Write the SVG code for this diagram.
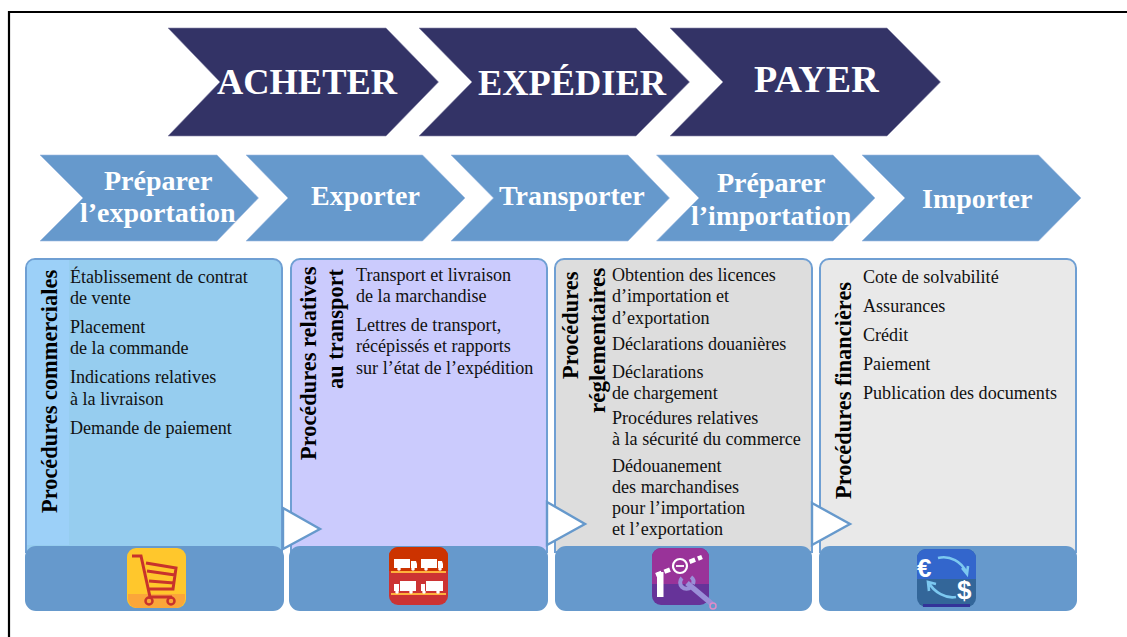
<svg xmlns="http://www.w3.org/2000/svg" width="1127" height="637" viewBox="0 0 1127 637">
<style>
.dark{fill:#333366;stroke:#8a88aa;stroke-width:.6}
.light{fill:#6699CC;stroke:#9fbbe0;stroke-width:.6}
text{font-family:"Liberation Serif","Times New Roman",serif}
.t1{font-size:36.400px;font-weight:700;fill:#fff}
.t2{font-size:28px;font-weight:700;fill:#fff}
.t3{font-size:18.100px;fill:#111}
.v{font-size:22.400px;font-weight:700;fill:#000}
.card{stroke:#6f9fd3;stroke-width:2}
.foot{fill:#6699CC}
.arrow{fill:#fff;stroke:#6699CC;stroke-width:2.400;stroke-linejoin:miter}
.w{fill:#fff}
.frame{fill:none;stroke:#000;stroke-width:2.200}
</style>
<rect width="1127" height="637" fill="#fff"/>
<path class="frame" d="M1127 12H9V637"/>

<g id="node-acheter"><polygon class="dark" points="168,28 386,28 438.500,82 386,136 168,136 220,82"/><text class="t1" x="217" y="94">ACHETER</text></g>
<g id="node-expedier"><polygon class="dark" points="419,28 636,28 689.500,82 636,136 419,136 472,82"/><text class="t1" x="478" y="95">EXPÉDIER</text></g>
<g id="node-payer"><polygon class="dark" points="670,28 887,28 940.500,82 887,136 670,136 723,82"/><text class="t1" style="font-size:38px" x="754" y="92">PAYER</text></g>

<g id="node-preparer-exportation"><polygon class="light" points="40,155 217,155 258.500,198 217,241 40,241 83,198"/><text class="t2" x="104" y="190">Préparer</text><text class="t2" x="80" y="222">l’exportation</text></g>
<g id="node-exporter"><polygon class="light" points="246,155 422.500,155 465,198 422.500,241 246,241 288,198"/><text class="t2" x="311" y="205">Exporter</text></g>
<g id="node-transporter"><polygon class="light" points="451,155 628,155 669.500,198 628,241 451,241 493.500,198"/><text class="t2" x="499" y="205">Transporter</text></g>
<g id="node-preparer-importation"><polygon class="light" points="656.500,155 833,155 875,198 833,241 656.500,241 699,198"/><text class="t2" x="717" y="192">Préparer</text><text class="t2" x="691" y="225">l’importation</text></g>
<g id="node-importer"><polygon class="light" points="862,155 1038.500,155 1081,198 1038.500,241 862,241 905,198"/><text class="t2" x="922" y="208">Importer</text></g>

<g id="node-commerciales">
<path class="card" fill="#96CDEF" d="M26 552V268a9 9 0 0 1 9-9H273a9 9 0 0 1 9 9V552Z"/>
<path fill="#9CD0F8" d="M27 545V268a8 8 0 0 1 8-8H69V545Z"/>
<rect class="foot" x="25" y="546" width="259" height="65" rx="11"/>
<text class="v" transform="translate(57,513) rotate(-90)">Procédures commerciales</text>
<g class="t3"><text x="70" y="283">Établissement de contrat</text><text x="70" y="304">de vente</text><text x="70" y="333">Placement</text><text x="70" y="354">de la commande</text><text x="70" y="383">Indications relatives</text><text x="70" y="405">à la livraison</text><text x="70" y="434">Demande de paiement</text></g>
<g id="icon-cart">
<rect x="127" y="548" width="59" height="60" rx="9" fill="#FFC72C"/>
<path d="M128 594H185V599a9 9 0 0 1-9 9H137a9 9 0 0 1-9-9Z" fill="#FBA63A"/>
<path d="M132 556H141L150 597H172M146 563 176 568 173 589H149M147 571 175 575M149 581 174 583" fill="none" stroke="#C8322C" stroke-width="3"/>
<circle cx="149" cy="601" r="3.500" fill="none" stroke="#C8322C" stroke-width="2.500"/><circle cx="171" cy="601" r="3.500" fill="none" stroke="#C8322C" stroke-width="2.500"/>
</g>
</g>

<g id="node-transport">
<path class="card" fill="#CBCBFD" d="M291 552V268a9 9 0 0 1 9-9H538a9 9 0 0 1 9 9V552Z"/>
<rect class="foot" x="289" y="546" width="259" height="65" rx="11"/>
<text class="v" transform="translate(316,460) rotate(-90)">Procédures relatives</text>
<text class="v" transform="translate(343,389) rotate(-90)">au transport</text>
<g class="t3"><text x="356" y="281">Transport et livraison</text><text x="356" y="302">de la marchandise</text><text x="356" y="331">Lettres de transport,</text><text x="356" y="352">récépissés et rapports</text><text x="356" y="374">sur l’état de l’expédition</text></g>
<g id="icon-trucks">
<rect x="389" y="547" width="59" height="58" rx="9" fill="#CC3333"/>
<path d="M398 547H439a9 9 0 0 1 9 9V571H389V556a9 9 0 0 1 9-9Z" fill="#CC3300"/>
<path fill="#FFB13B" d="M391 571H446V573H391ZM391 593H446V595H391Z"/>
<g class="w">
<path d="M394 559H410V568H394ZM411 561H416L417 564V568H411ZM421 559H437V568H421ZM438 561H442L443 564V568H438Z"/>
<path d="M400 581H416V591H400ZM394 584H399V591H394ZM426 581H443V591H426ZM421 584H425V591H421Z"/>
<circle cx="399" cy="569" r="1.800"/><circle cx="413" cy="569" r="1.800"/><circle cx="426" cy="569" r="1.800"/><circle cx="440" cy="569" r="1.800"/>
<circle cx="397" cy="592" r="1.800"/><circle cx="411" cy="592" r="1.800"/><circle cx="424" cy="592" r="1.800"/><circle cx="438" cy="592" r="1.800"/>
</g>
</g>
</g>

<g id="node-reglementaires">
<path class="card" fill="#DDDDDD" d="M555 552V268a9 9 0 0 1 9-9H803a9 9 0 0 1 9 9V552Z"/>
<rect class="foot" x="555" y="546" width="257" height="65" rx="11"/>
<text class="v" transform="translate(578,379) rotate(-90)">Procédures</text>
<text class="v" style="font-size:23px" transform="translate(605,413) rotate(-90)">réglementaires</text>
<g class="t3"><text x="612" y="281">Obtention des licences</text><text x="612" y="302">d’importation et</text><text x="612" y="324">d’exportation</text><text x="612" y="350">Déclarations douanières</text><text x="612" y="378">Déclarations</text><text x="612" y="399">de chargement</text><text x="612" y="424">Procédures relatives</text><text x="612" y="445">à la sécurité du commerce</text><text x="612" y="472">Dédouanement</text><text x="612" y="493">des marchandises</text><text x="612" y="514">pour l’importation</text><text x="612" y="535">et l’exportation</text></g>
<g id="icon-tools">
<rect x="652" y="548" width="57" height="57" rx="9" fill="#663399"/>
<path d="M661 548H700a9 9 0 0 1 9 9V584H652V557a9 9 0 0 1 9-9Z" fill="#993399"/>
<path d="M656 575 702 557" stroke="#fff" stroke-width="4.500" stroke-dasharray="6 3" fill="none"/>
<circle cx="680" cy="566" r="7" fill="#993399" stroke="#fff" stroke-width="2.200"/><path d="M676 566H684" stroke="#fff" stroke-width="1.800"/>
<rect x="657" y="572" width="6.500" height="25" fill="#fff"/>
<path d="M687 583 712 604" stroke="#9A8FD8" stroke-width="5.500"/><path d="M682 578a6 6 0 0 0 9 9M691 577a6 6 0 0 1 2 7" fill="none" stroke="#9A8FD8" stroke-width="4"/><circle cx="713" cy="606" r="3" fill="none" stroke="#E08CC8" stroke-width="1.500"/>
</g>
</g>

<g id="node-financieres">
<path class="card" fill="#E9E9E9" d="M820 552V268a9 9 0 0 1 9-9H1067a9 9 0 0 1 9 9V552Z"/>
<rect class="foot" x="819" y="546" width="258" height="65" rx="11"/>
<text class="v" transform="translate(851,499) rotate(-90)">Procédures financières</text>
<g class="t3"><text x="863" y="283">Cote de solvabilité</text><text x="863" y="312">Assurances</text><text x="863" y="341">Crédit</text><text x="863" y="370">Paiement</text><text x="863" y="399">Publication des documents</text></g>
<g id="icon-money">
<rect x="917" y="549" width="59" height="58" rx="9" fill="#336699"/>
<path d="M926 549H967a9 9 0 0 1 9 9V579H917V558a9 9 0 0 1 9-9Z" fill="#3366CC"/>
<path d="M923 604H970V607H923Z" fill="#333399"/>
<path d="M938 558C950 555 962 562 966 572M962 568 967 574 968 566M956 597C946 599 934 592 929 583M929 591 928 582 936 584" fill="none" stroke="#7CC8F0" stroke-width="2.600"/>
<text x="917" y="577" style="font-family:'Liberation Sans',sans-serif;font-weight:700;font-size:26px;fill:#fff">€</text>
<text x="957" y="599" style="font-family:'Liberation Sans',sans-serif;font-weight:700;font-size:26px;fill:#fff">$</text>
</g>
</g>

<g id="connectors">
<polygon class="arrow" points="283,508 320,529 283,549"/>
<polygon class="arrow" points="547,502 585,524 547,545"/>
<polygon class="arrow" points="812,503 850,524 812,545"/>
</g>
</svg>
